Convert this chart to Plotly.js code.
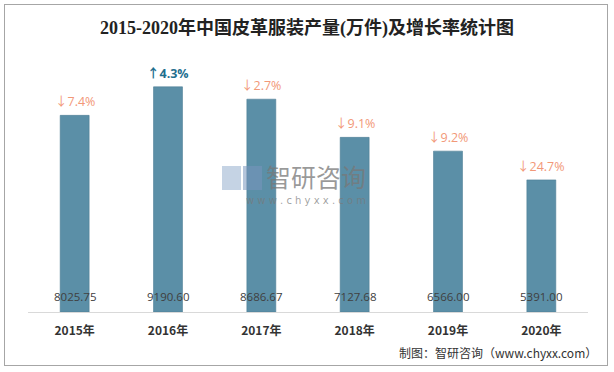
<!DOCTYPE html>
<html><head><meta charset="utf-8">
<script src="https://cdn.plot.ly/plotly-3.0.1.min.js"></script>
<style>
body{margin:0;padding:0;background:#fff;}
#wrap{position:relative;width:614px;height:372px;}
#chart{position:absolute;left:0;top:0;width:614px;height:372px;}
#frame{position:absolute;left:4px;top:4px;width:604px;height:362px;border:1px solid #a6a6a6;pointer-events:none;box-sizing:border-box;}
</style></head>
<body><div id="wrap"><div id="chart"></div><div id="frame"></div></div>
<script>
const years = ["2015年","2016年","2017年","2018年","2019年","2020年"];
const output = [8025.75, 9190.60, 8686.67, 7127.68, 6566.00, 5391.00];
const growth = [-7.4, 4.3, -2.7, -9.1, -9.2, -24.7];

const upColor = "#1f6f8f", downColor = "#f29878";
const ann = [];
years.forEach((y,i)=>{
  const g = growth[i];
  ann.push({x:y, y:output[i], xref:'x', yref:'y', yanchor:'bottom', yshift:3, showarrow:false,
    text: '<span style="font-family:Noto Sans CJK SC">' + (g<0?'↓':'↑') + '</span>' + Math.abs(g).toFixed(1) + '%',
    font:{family:'Open Sans, Noto Sans CJK SC, sans-serif', size:12.5, color: g<0?downColor:upColor, weight: g<0?400:700}});
  ann.push({x:y, y:0, xref:'x', yref:'y', yanchor:'bottom', yshift:6, showarrow:false,
    text: output[i].toFixed(2),
    font:{family:'Open Sans, sans-serif', size:11.5, color:'#404040'}});
});
// watermark
ann.push({xref:'paper', yref:'paper', x:0.515, y:0.555, showarrow:false, text:'智研咨询',
  font:{family:'Noto Sans CJK SC', size:25, color:'rgba(120,120,120,0.75)'}});
ann.push({xref:'paper', yref:'paper', x:0.497, y:0.455, showarrow:false, text:'w w w . c h y x x . c o m',
  font:{family:'DejaVu Sans', size:10, color:'rgba(120,120,120,0.7)'}});
// source
ann.push({xref:'paper', yref:'paper', x:1.02, y:-0.165, xanchor:'right', yanchor:'middle', showarrow:false,
  text:'制图：智研咨询（www.chyxx.com）', font:{family:'Noto Sans CJK SC', size:12, color:'#333'}});

const trace = {type:'bar', x:years, y:output, width:0.31,
  marker:{color:'#5b8fa7', line:{color:'#4d7d95', width:0.6}}, hoverinfo:'none'};

const layout = {
  width:614, height:372,
  margin:{l:28, r:26, t:67, b:60},
  paper_bgcolor:'#fff', plot_bgcolor:'#fff',
  title:{text:'<b>2015-2020年中国皮革服装产量(万件)及增长率统计图</b>', x:0.5, xanchor:'center', y:0.925, yanchor:'middle',
    font:{family:'Liberation Serif, Noto Sans CJK SC, serif', size:18, color:'#222'}},
  xaxis:{showline:true, linecolor:'#d9d9d9', linewidth:1, ticks:'', showgrid:false, zeroline:false,
    tickfont:{family:'Noto Sans CJK SC, sans-serif', size:12, color:'#333', weight:700}, ticklabelstandoff:8},
  yaxis:{range:[0,10000], visible:false, showgrid:false, zeroline:false},
  annotations:ann,
  shapes:[
    {type:'rect', xref:'paper', yref:'paper', x0:(222-28)/560, x1:(241-28)/560, y0:(312-190)/245, y1:(312-166)/245,
      fillcolor:'rgba(150,175,205,0.55)', line:{width:0}},
    {type:'rect', xref:'paper', yref:'paper', x0:(243-28)/560, x1:(262-28)/560, y0:(312-190)/245, y1:(312-166)/245,
      fillcolor:'rgba(120,150,190,0.55)', line:{width:0}}
  ],
  showlegend:false
};
Plotly.newPlot('chart',[trace],layout,{displayModeBar:false, staticPlot:true});
</script></body></html>
